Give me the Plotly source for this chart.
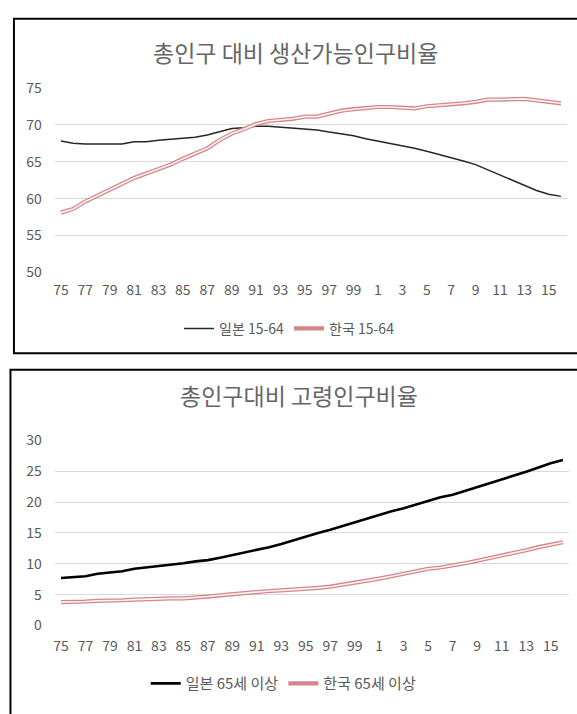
import plotly.graph_objects as go

W, H = 577, 714

years = list(range(1975, 2017))
tick_years = years[::2]
tick_text = ["75", "77", "79", "81", "83", "85", "87", "89", "91", "93", "95", "97", "99",
             "1", "3", "5", "7", "9", "11", "13", "15"]

japan_1564 = [67.8, 67.5, 67.4, 67.4, 67.4, 67.4, 67.7, 67.7, 67.9, 68.0,
              68.2, 68.3, 68.6, 69.1, 69.5, 69.6, 69.8, 69.8, 69.7, 69.6,
              69.4, 69.3, 69.0, 68.8, 68.5, 68.1, 67.8, 67.4, 67.1, 66.8,
              66.4, 66.0, 65.6, 65.1, 64.6, 63.9, 63.2, 62.5, 61.8, 61.1,
              60.6, 60.3]
korea_1564 = [58.1, 58.6, 59.6, 60.4, 61.2, 62.0, 62.8, 63.4, 64.0, 64.6,
              65.4, 66.1, 66.8, 67.9, 68.8, 69.4, 70.1, 70.5, 70.6, 70.8,
              71.1, 71.1, 71.5, 71.9, 72.1, 72.3, 72.4, 72.4, 72.3, 72.2,
              72.5, 72.6, 72.8, 72.9, 73.1, 73.4, 73.4, 73.4, 73.5, 73.3,
              73.1, 72.9]
japan_65 = [7.7, 7.8, 8.0, 8.4, 8.6, 8.8, 9.2, 9.4, 9.6, 9.8,
            10.1, 10.4, 10.6, 11.0, 11.4, 11.8, 12.2, 12.7, 13.2, 13.8,
            14.5, 15.0, 15.5, 16.1, 16.8, 17.4, 18.0, 18.5, 19.0, 19.6,
            20.2, 20.8, 21.2, 21.8, 22.4, 23.0, 23.6, 24.2, 24.9, 25.6,
            26.3, 26.8]
korea_65 = [3.8, 3.8, 3.9, 4.0, 4.0, 4.1, 4.2, 4.3, 4.3, 4.4,
            4.4, 4.5, 4.7, 4.9, 5.1, 5.2, 5.4, 5.6, 5.7, 5.8,
            5.9, 6.1, 6.3, 6.6, 6.9, 7.2, 7.6, 8.0, 8.4, 8.8,
            9.2, 9.4, 9.7, 10.1, 10.5, 10.9, 11.3, 11.8, 12.2, 12.7,
            13.1, 13.5]

title_top = "총인구 대비 생산가능인구비율"
title_bottom = "총인구대비 고령인구비율"
FONT = "Noto Sans CJK KR"
GRAY = "#595959"
PINK = "#d4868a"
PINK_IN = "#fdf3f3"


def px(x):
    return x / W


def py(y):
    return 1 - y / H


fig = go.Figure()

# top chart
fig.add_trace(go.Scatter(x=years, y=japan_1564, mode="lines", name="일본 15-64",
                         line=dict(color="#262626", width=1.5), xaxis="x", yaxis="y",
                         legend="legend"))
fig.add_trace(go.Scatter(x=years, y=korea_1564, mode="lines", name="한국 15-64",
                         line=dict(color=PINK, width=4.2), xaxis="x", yaxis="y",
                         legend="legend", legendgroup="k1"))
fig.add_trace(go.Scatter(x=years, y=korea_1564, mode="lines", name="한국 15-64",
                         line=dict(color=PINK_IN, width=1.6), xaxis="x", yaxis="y",
                         showlegend=False, legendgroup="k1", hoverinfo="skip"))

# bottom chart
fig.add_trace(go.Scatter(x=years, y=japan_65, mode="lines", name="일본 65세 이상",
                         line=dict(color="#000000", width=2.6), xaxis="x2", yaxis="y2",
                         legend="legend2"))
fig.add_trace(go.Scatter(x=years, y=korea_65, mode="lines", name="한국 65세 이상",
                         line=dict(color=PINK, width=4.2), xaxis="x2", yaxis="y2",
                         legend="legend2", legendgroup="k2"))
fig.add_trace(go.Scatter(x=years, y=korea_65, mode="lines", name="한국 65세 이상",
                         line=dict(color=PINK_IN, width=1.6), xaxis="x2", yaxis="y2",
                         showlegend=False, legendgroup="k2", hoverinfo="skip"))

xcommon = dict(range=[1974.5, 2016.5], tickmode="array", tickvals=tick_years,
               ticktext=tick_text, showgrid=False, zeroline=False, showline=False,
               ticks="", tickfont=dict(family=FONT, size=14, color=GRAY))
ycommon = dict(showgrid=True, gridcolor="#d9d9d9", gridwidth=1, zeroline=False,
               showline=False, ticks="", tickfont=dict(family=FONT, size=14, color=GRAY),
               ticklabelstandoff=12)

fig.update_layout(
    width=W, height=H,
    margin=dict(l=0, r=0, t=0, b=0),
    paper_bgcolor="white", plot_bgcolor="white",
    font=dict(family=FONT, color=GRAY),
    xaxis=dict(domain=[px(53), px(567)], anchor="y", ticklabelstandoff=8, **xcommon),
    yaxis=dict(domain=[py(269), py(79)], anchor="x", range=[50, 75], tickvals=[50, 55, 60, 65, 70, 75],
               **ycommon),
    xaxis2=dict(domain=[px(53), px(569)], anchor="y2", ticklabelstandoff=10, **xcommon),
    yaxis2=dict(domain=[py(632.3), py(441.7)], anchor="x2", range=[0, 30],
                tickvals=[0, 5, 10, 15, 20, 25, 30], **ycommon),
    legend=dict(orientation="h", x=0.5, xanchor="center", y=py(327), yanchor="middle",
                font=dict(family=FONT, size=14, color=GRAY), bgcolor="rgba(0,0,0,0)",
                itemwidth=30, tracegroupgap=0),
    legend2=dict(orientation="h", x=0.49, xanchor="center", y=py(692), yanchor="middle",
                 font=dict(family=FONT, size=15, color=GRAY), bgcolor="rgba(0,0,0,0)",
                 itemwidth=30, tracegroupgap=0),
    annotations=[
        dict(text=title_top, x=px(295), y=py(42), xref="paper", yref="paper",
             xanchor="center", yanchor="middle", showarrow=False,
             font=dict(family=FONT, size=23, color="#666666")),
        dict(text=title_bottom, x=px(298), y=py(395), xref="paper", yref="paper",
             xanchor="center", yanchor="middle", showarrow=False,
             font=dict(family=FONT, size=23, color="#666666")),
    ],
    shapes=[
        dict(type="rect", xref="paper", yref="paper", x0=px(12), x1=px(590),
             y0=py(352), y1=py(8), line=dict(color="black", width=2), layer="above"),
        dict(type="rect", xref="paper", yref="paper", x0=px(8.5), x1=px(590),
             y0=py(730), y1=py(369), line=dict(color="black", width=2), layer="above"),
    ],
)

fig.write_html("out.html")
